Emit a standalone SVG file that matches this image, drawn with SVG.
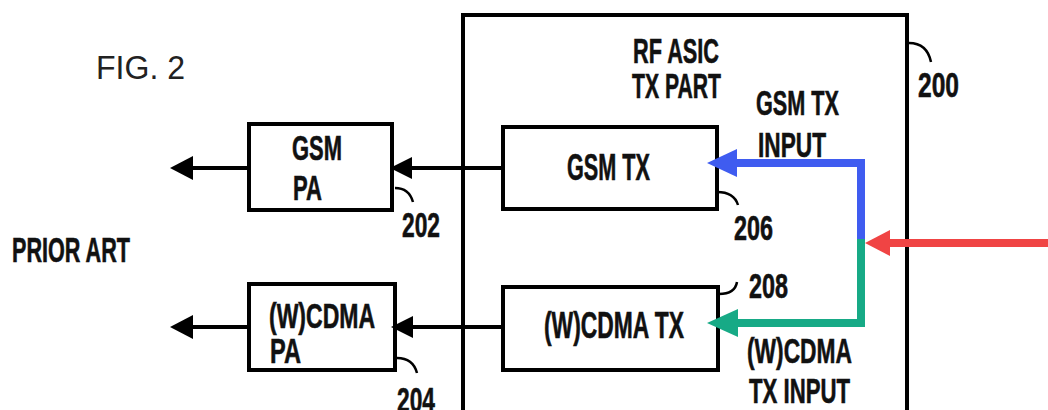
<svg xmlns="http://www.w3.org/2000/svg" width="1048" height="410" viewBox="0 0 1048 410">
<style>
.box{fill:#fff;stroke:#000;stroke-width:4}
.t{font-family:"Liberation Sans",Arial,sans-serif;font-weight:bold;font-size:35px;fill:#111;stroke:#111;stroke-width:0.6}
.fig{font-family:"Liberation Sans",Arial,sans-serif;font-size:33px;fill:#222}
.ln{stroke:#000;stroke-width:4;fill:none}
.ld{stroke:#000;stroke-width:2.5;fill:none}
</style>
<rect width="1048" height="410" fill="#fff"/>
<text class="fig" x="96" y="79" textLength="89" lengthAdjust="spacingAndGlyphs">FIG. 2</text>
<text class="t" x="12" y="262" textLength="118" lengthAdjust="spacingAndGlyphs">PRIOR ART</text>
<g id="asic">
<rect class="box" x="463" y="15" width="444" height="420"/>
<text class="t" x="633" y="63" textLength="86" lengthAdjust="spacingAndGlyphs">RF ASIC</text>
<text class="t" x="632" y="98" textLength="89" lengthAdjust="spacingAndGlyphs">TX PART</text>
<text class="t" x="918" y="97" textLength="41" lengthAdjust="spacingAndGlyphs">200</text>
<path class="ld" d="M909,43 Q927,43 931,62"/>
</g>
<g id="gsm-pa">
<rect class="box" x="249" y="124" width="143" height="86"/>
<text class="t" x="292" y="160" textLength="50" lengthAdjust="spacingAndGlyphs">GSM</text>
<text class="t" x="293" y="200" textLength="29" lengthAdjust="spacingAndGlyphs">PA</text>
<text class="t" x="402" y="237" textLength="38" lengthAdjust="spacingAndGlyphs">202</text>
<path class="ld" d="M395,188 Q409,188 413,202"/>
</g>
<g id="wcdma-pa">
<rect class="box" x="249" y="284" width="146" height="86"/>
<text class="t" x="269" y="328" textLength="106" lengthAdjust="spacingAndGlyphs">(W)CDMA</text>
<text class="t" x="270" y="363" textLength="31" lengthAdjust="spacingAndGlyphs">PA</text>
<text class="t" x="397" y="412" textLength="38" lengthAdjust="spacingAndGlyphs">204</text>
<path class="ld" d="M397,358 Q413,358 417,373"/>
</g>
<g id="gsm-tx">
<rect class="box" x="503" y="127" width="214" height="82"/>
<text class="t" x="567" y="180" textLength="83" lengthAdjust="spacingAndGlyphs" style="font-size:37px">GSM TX</text>
<text class="t" x="734" y="240" textLength="39" lengthAdjust="spacingAndGlyphs">206</text>
<path class="ld" d="M717,192 Q734,192 738,205"/>
</g>
<g id="wcdma-tx">
<rect class="box" x="503" y="287" width="215" height="83"/>
<text class="t" x="544" y="338" textLength="140" lengthAdjust="spacingAndGlyphs" style="font-size:37px">(W)CDMA TX</text>
<text class="t" x="749" y="298" textLength="39" lengthAdjust="spacingAndGlyphs">208</text>
<path class="ld" d="M719,294 Q735,294 737,282"/>
</g>
<g id="labels">
<text class="t" x="756" y="115" textLength="83" lengthAdjust="spacingAndGlyphs">GSM TX</text>
<text class="t" x="758" y="157" textLength="68" lengthAdjust="spacingAndGlyphs">INPUT</text>
<text class="t" x="747" y="363" textLength="105" lengthAdjust="spacingAndGlyphs">(W)CDMA</text>
<text class="t" x="749" y="403" textLength="101" lengthAdjust="spacingAndGlyphs">TX INPUT</text>
</g>
<g id="connectors">
<line class="ln" x1="249" y1="168" x2="190" y2="168"/>
<polygon points="170,168 193,156 193,180" fill="#000"/>
<line class="ln" x1="503" y1="168" x2="410" y2="168"/>
<polygon points="390,168 412,157 412,179" fill="#000"/>
<line class="ln" x1="249" y1="327" x2="190" y2="327"/>
<polygon points="170,327 193,315 193,339" fill="#000"/>
<line class="ln" x1="503" y1="327" x2="410" y2="327"/>
<polygon points="391,327 413,316 413,338" fill="#000"/>
<path d="M861,241 V163 H734" fill="none" stroke="#3f5cf0" stroke-width="8"/>
<polygon points="707,163 737,149 737,177" fill="#3f5cf0"/>
<path d="M861,239 V323 H735" fill="none" stroke="#17aa86" stroke-width="8"/>
<polygon points="707,323 738,309 738,337" fill="#17aa86"/>
<line x1="1048" y1="243" x2="887" y2="243" stroke="#f04444" stroke-width="8"/>
<polygon points="865,243 890,230 890,256" fill="#f04444"/>
</g>
</svg>
